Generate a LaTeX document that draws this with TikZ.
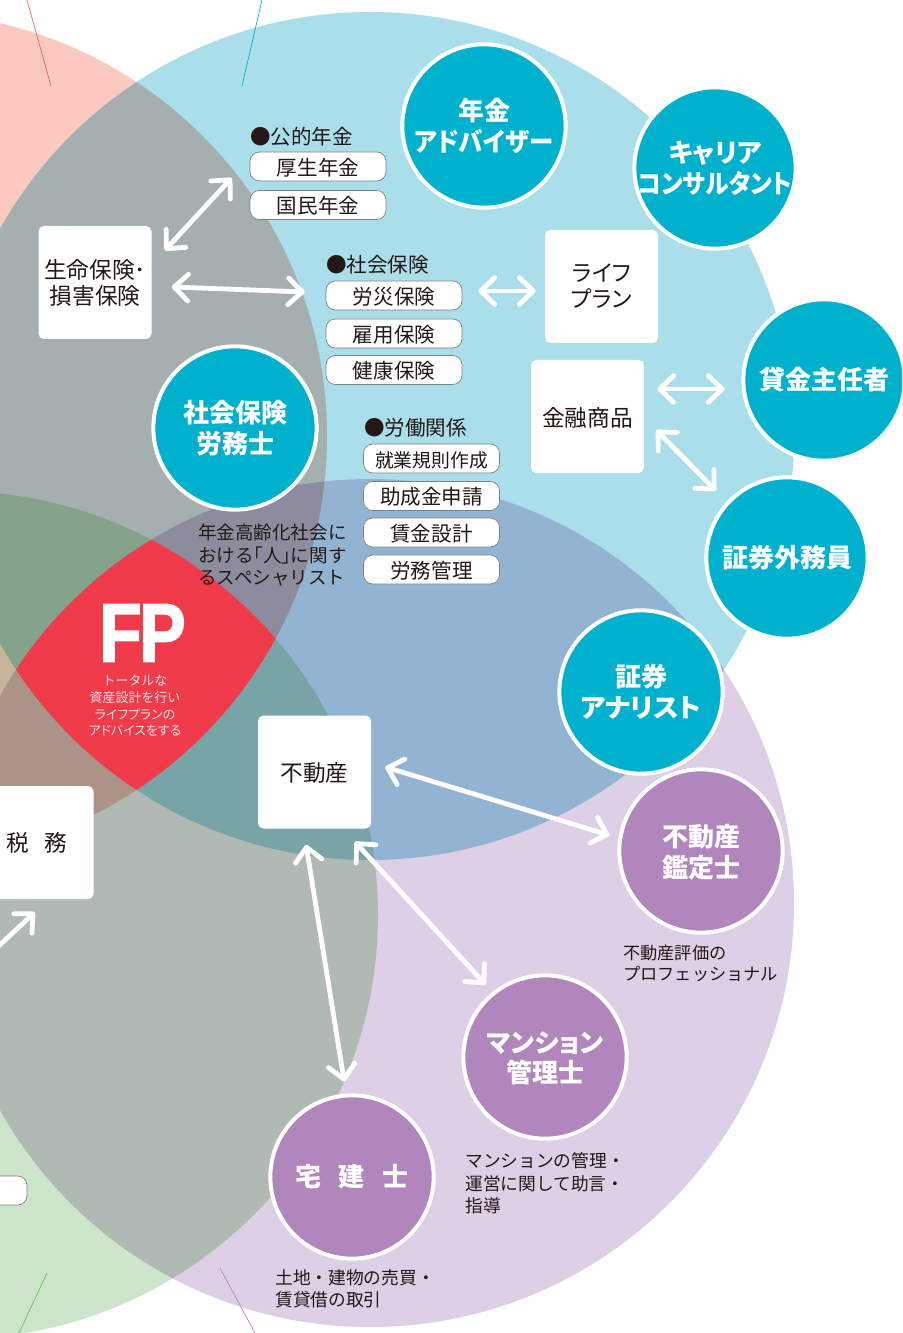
\documentclass[tikz,border=0pt]{standalone}
\usepackage{fontspec}
\usetikzlibrary{arrows.meta}
\setmainfont{Noto Sans CJK JP}
\newfontfamily\palt[RawFeature=+palt]{Noto Sans CJK JP}
\newfontfamily\fpfont[FakeBold=2.2]{Liberation Sans}
\definecolor{inkc}{HTML}{231815}
\definecolor{redpale}{HTML}{FBC9C0}
\definecolor{bluepale}{HTML}{A9DEEA}
\definecolor{purplepale}{HTML}{DDCFE6}
\definecolor{greenpale}{HTML}{CDE5CA}
\definecolor{redblue}{HTML}{A5AFAF}
\definecolor{redgreen}{HTML}{C8B49A}
\definecolor{bluepurple}{HTML}{93B3D3}
\definecolor{purplegreen}{HTML}{B1BAB2}
\definecolor{rbg}{HTML}{85A28B}
\definecolor{rpg}{HTML}{AB9486}
\definecolor{rbp}{HTML}{8D8B9E}
\definecolor{bpg}{HTML}{78A3A7}
\definecolor{fpred}{HTML}{F03C4A}
\definecolor{certcyan}{HTML}{00B1CE}
\definecolor{certpurple}{HTML}{B086BC}
\newcommand{\circred}{(-97,436) circle (424)}
\newcommand{\circblue}{(370,436) circle (424)}
\newcommand{\circpurple}{(370,903) circle (424)}
\newcommand{\circgreen}{(-46,915) circle (424)}
\newcommand{\allpage}{(-50,-50) rectangle (950,1400)}
\tikzset{
  whitebox/.style={fill=white,rounded corners=4pt,minimum size=84.75pt,inner sep=0pt,text=inkc,font=\fontsize{17}{19.5}\selectfont,align=center},
  pillbox/.style={fill=white,draw=black!50,line width=0.5pt,rounded corners=7pt,minimum width=102pt,minimum height=21.75pt,inner sep=0pt,text=inkc,text height=13.5pt,text depth=0.4pt,font=\fontsize{15.4}{18}\selectfont},
  headline/.style={anchor=west,inner sep=0pt,text=inkc,font=\fontsize{15.4}{18}\selectfont},
  cert/.style={circle,draw=white,line width=3pt,minimum size=122.5pt,inner sep=-20pt,text=white,font=\palt\bfseries\fontsize{19.5}{23}\selectfont,align=center},
  certc/.style={cert,fill=certcyan},
  certp/.style={cert,fill=certpurple},
  small/.style={minimum size=121pt},
  note/.style={anchor=north west,inner sep=0pt,text=inkc,font=\fontsize{13.3}{17.1}\selectfont,align=left},
  biarrow/.style={white,line width=3.6pt,line cap=round,{Straight Barb[length=10.5pt,width=20pt,round]}-{Straight Barb[length=10.5pt,width=20pt,round]}},
  oneway/.style={white,line width=3.6pt,line cap=round,-{Straight Barb[length=10.5pt,width=20pt,round]}},
  leader/.style={line width=0.5pt}
}
\begin{document}
\begin{tikzpicture}[x=0.75pt,y=-0.75pt]
\useasboundingbox (0,0) rectangle (902,1333);
\clip (0,0) rectangle (902,1333);
\fill [redpale] \circred;
\fill [bluepale] \circblue;
\fill [purplepale] \circpurple;
\fill [greenpale] \circgreen;
\begin{scope} \clip \circred; \clip \circblue; \fill [redblue] \allpage; \end{scope}
\begin{scope} \clip \circred; \clip \circgreen; \fill [redgreen] \allpage; \end{scope}
\begin{scope} \clip \circblue; \clip \circpurple; \fill [bluepurple] \allpage; \end{scope}
\begin{scope} \clip \circpurple; \clip \circgreen; \fill [purplegreen] \allpage; \end{scope}
\begin{scope} \clip \circred; \clip \circblue; \clip \circgreen; \fill [rbg] \allpage; \end{scope}
\begin{scope} \clip \circred; \clip \circpurple; \clip \circgreen; \fill [rpg] \allpage; \end{scope}
\begin{scope} \clip \circred; \clip \circblue; \clip \circpurple; \fill [rbp] \allpage; \end{scope}
\begin{scope} \clip \circblue; \clip \circpurple; \clip \circgreen; \fill [bpg] \allpage; \end{scope}
\begin{scope} \clip \circred; \clip \circblue; \clip \circpurple; \clip \circgreen; \fill [fpred] \allpage; \end{scope}

\coordinate (redtop) at (27,0);
\coordinate (redend) at (51,86);
\coordinate (bluetop) at (262,0);
\coordinate (blueend) at (242,86);
\coordinate (greentop) at (47,1273);
\coordinate (greenend) at (19,1333);
\coordinate (purpletop) at (220,1268);
\coordinate (purpleend) at (255,1333);
\draw [leader,color=fpred!85] (redtop) -- (redend);
\draw [leader,color=certcyan] (bluetop) -- (blueend);
\draw [leader,color={rgb,255:red,108;green,187;blue,90}] (greentop) -- (greenend);
\draw [leader,color=certpurple] (purpletop) -- (purpleend);

\node [whitebox] (seimei) at (95,282.5) {生命保険･\\損害保険};
\node [whitebox] (life) at (601.5,286.5) {{\palt ライフ}\\{\palt プラン}};
\node [whitebox,text depth=0pt] (kinyu) at (587.5,416.5) {金融商品};
\node [whitebox,text depth=0pt] (fudosan) at (314.5,772) {不動産};
\node [whitebox] (zeimu) at (37,842.5) {税\hspace{12pt}務};

\node [headline] (kotekihead) at (250,137) {●公的年金};
\node [pillbox] (kosei) at (318,166.5) {厚生年金};
\node [pillbox] (kokumin) at (318,205) {国民年金};
\node [headline] (shakaihead) at (326,265) {●社会保険};
\node [pillbox] (rosai) at (394,295.5) {労災保険};
\node [pillbox] (koyo) at (394,333.5) {雇用保険};
\node [pillbox] (kenko) at (394,370) {健康保険};
\node [headline] (rodohead) at (364,428) {●労働関係};
\node [pillbox,font=\fontsize{14.1}{18}\selectfont] (shugyo) at (431.5,458.5) {就業規則作成};
\node [pillbox] (josei) at (431.5,496) {助成金申請};
\node [pillbox] (chingin) at (431.5,532.5) {賃金設計};
\node [pillbox] (romu) at (431.5,569.5) {労務管理};
\node [pillbox] (cutpill) at (-41,1190.5) {};

\node [certc] (nenkin) at (484,126) {年金\\\scalebox{0.94}[1]{アドバイザー}};
\node [certc,small] (career) at (715,168) {キャリア\\\scalebox{0.915}[1]{コンサルタント}};
\node [certc,small] (kashikin) at (824,380) {貸金主任者};
\node [certc,small] (gaimu) at (787,558) {証券外務員};
\node [certc] (analyst) at (641,692) {証券\\\scalebox{1.04}[1]{アナリスト}};
\node [certc] (sharo) at (235,428) {社会保険\\労務士};
\node [certp,text depth=-1pt] (kantei) at (701,851) {不動産\\鑑定士};
\node [certp,text depth=0pt] (mansion) at (545,1057) {マンション\\管理士};
\node [certp] (takken) at (352,1177) {宅\hspace{13pt}建\hspace{13pt}士};

\node [note,font=\fontsize{13.9}{16.9}\selectfont] (sharonote) at (198,524) {年金高齢化社会に\\おける{\palt 「人」}に関す\\るスペシャリスト};
\node [note,font=\fontsize{12.9}{15.9}\selectfont] (kanteinote) at (623,945) {不動産評価の\\プロフェッショナル};
\node [note] (mansionnote) at (465,1152) {マンションの管理・\\運営に関して助言・\\指導};
\node [note] (takkennote) at (275,1269) {土地・建物の売買・\\賃貸借の取引};

\node [inner sep=0pt,text=white] (fp) at (142.5,633) {\scalebox{0.84}[1]{\fpfont\bfseries\fontsize{62}{62}\selectfont F\kern-0.035em P}};
\node [inner sep=0pt,text=white!85!fpred,font=\fontsize{9.7}{12.5}\selectfont,align=center] (fptext) at (135,706) {トータルな\\資産設計を行い\\{\palt ライフプランの}\\{\palt アドバイスをする}};

\draw [biarrow,shorten <=14.4pt,shorten >=19.9pt] ([shift={(0,-18)}]seimei.east) -- ([shift={(0,-8)}]kosei.west);
\draw [biarrow,shorten <=15pt,shorten >=15.75pt] ([shift={(0,3.7)}]seimei.east) -- ([shift={(0,-2.7)}]rosai.west);
\draw [biarrow,shorten <=12pt,shorten >=6.75pt] ([shift={(0,-4.5)}]rosai.east) -- ([shift={(0,4.5)}]life.west);
\draw [biarrow,shorten <=9.75pt,shorten >=12.5pt] ([shift={(0,-27.5)}]kinyu.east) -- ([shift={(0,9)}]kashikin.west);
\draw [biarrow,shorten <=12.9pt,shorten >=11.5pt] ([shift={(0,1.3)}]kinyu.east) -- (gaimu.137);
\draw [biarrow,shorten <=11pt,shorten >=7pt] ([shift={(0,-9.25)}]fudosan.east) -- (kantei.171);
\draw [biarrow,shorten <=12.2pt,shorten >=9.1pt] ([shift={(-11,0)}]fudosan.south) -- (takken.94);
\draw [biarrow,shorten <=13.2pt,shorten >=7.5pt] ([shift={(28.5,0)}]fudosan.south) -- (mansion.129);
\coordinate (zeimufree) at (-40,982);
\draw [oneway,shorten >=14.3pt] (zeimufree) -- ([shift={(11.8,0)}]zeimu.south);
\end{tikzpicture}
\end{document}
